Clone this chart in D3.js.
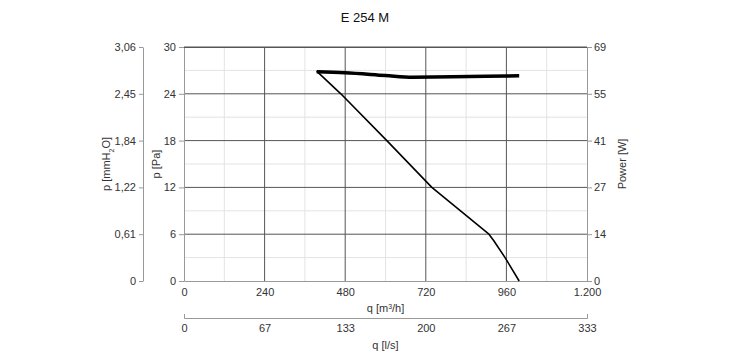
<!DOCTYPE html>
<html><head><meta charset="utf-8">
<script src="https://cdn.jsdelivr.net/npm/d3@7/dist/d3.min.js"></script>
<style>body{margin:0;background:#fff}svg{display:block}text{font-family:Arial,"Liberation Sans",sans-serif}</style>
</head><body>
<svg id="c" width="730" height="360"></svg>
<script>
const title = "E 254 M";
const flowTicks = [0, 240, 480, 720, 960, 1200];
const flowTickLabels = ["0", "240", "480", "720", "960", "1.200"];
const lsTicksLabels = ["0", "67", "133", "200", "267", "333"];
const paTicks = [0, 6, 12, 18, 24, 30];
const mmTickLabels = ["0", "0,61", "1,22", "1,84", "2,45", "3,06"];
const powerTickLabels = ["0", "14", "27", "41", "55", "69"];
// pressure curve: q [m3/h], p [Pa]
const pressQ = [395, 467, 604, 738, 908, 922, 956, 998];
const pressP = [26.9, 24, 18, 12, 6, 5.2, 3, 0];
// power curve: q [m3/h], power [W]
const powQ = [395, 479, 600, 680, 800, 900, 998];
const powW = [61.7, 61.4, 60.6, 60.1, 60.2, 60.4, 60.5];

const svg = d3.select("#c");
const L = 184, R = 587, T = 47, B = 281;
const x = d3.scaleLinear().domain([0, 1200]).range([L, R]);
const y = d3.scaleLinear().domain([0, 30]).range([B, T]);
const yW = d3.scaleLinear().domain([0, 69]).range([B, T]);
const axisCol = "#999", txtCol = "#333";

// grid
const g = svg.append("g");
d3.range(120, 1200, 240).forEach(v => g.append("line").attr("x1", x(v)).attr("x2", x(v)).attr("y1", T).attr("y2", B).attr("stroke", "#e3e3e3"));
d3.range(3, 30, 6).forEach(v => g.append("line").attr("x1", L).attr("x2", R).attr("y1", y(v)).attr("y2", y(v)).attr("stroke", "#e3e3e3"));
flowTicks.slice(1, -1).forEach(v => g.append("line").attr("x1", x(v)).attr("x2", x(v)).attr("y1", T).attr("y2", B).attr("stroke", "#555"));
paTicks.slice(1).forEach(v => g.append("line").attr("x1", L).attr("x2", R).attr("y1", y(v)).attr("y2", y(v)).attr("stroke", "#555"));

function styleAxis(sel) {
  sel.selectAll("path,line").attr("stroke", axisCol);
  sel.selectAll("text").attr("fill", txtCol).style("font-size", "11px").style("font-family", "Arial, 'Liberation Sans', sans-serif");
}

// Pa axis
svg.append("g").attr("transform", `translate(${L},0)`)
  .call(d3.axisLeft(y).tickValues(paTicks).tickSize(5).tickSizeOuter(0).tickPadding(3))
  .call(styleAxis);
// mmH2O axis
svg.append("g").attr("transform", `translate(143,0)`)
  .call(d3.axisLeft(y).tickValues(paTicks).tickFormat((d, i) => mmTickLabels[i]).tickSize(4).tickSizeOuter(0).tickPadding(3))
  .call(styleAxis);
// Power axis
svg.append("g").attr("transform", `translate(${R},0)`)
  .call(d3.axisRight(yW).tickValues(powerTickLabels.map((d, i) => 69 * i / 5)).tickFormat((d, i) => powerTickLabels[i]).tickSize(5).tickSizeOuter(0).tickPadding(2))
  .call(styleAxis);
// flow axis m3/h
svg.append("g").attr("transform", `translate(0,${B})`)
  .call(d3.axisBottom(x).tickValues(flowTicks).tickFormat((d, i) => flowTickLabels[i]).tickSize(0).tickSizeOuter(0).tickPadding(7))
  .call(styleAxis);
// flow axis l/s
svg.append("g").attr("transform", `translate(0,318)`)
  .call(d3.axisBottom(x).tickValues(flowTicks).tickFormat((d, i) => lsTicksLabels[i]).tickSizeInner(0).tickSizeOuter(-4).tickPadding(6))
  .call(styleAxis);

// top border
svg.append("line").attr("x1", L).attr("x2", R).attr("y1", T + 0.5).attr("y2", T + 0.5).attr("stroke", "#555");

// curves
const pressData = pressQ.map((q, i) => [q, pressP[i]]);
const powData = powQ.map((q, i) => [q, powW[i]]);
svg.append("path").datum(pressData)
  .attr("d", d3.line().x(d => x(d[0])).y(d => y(d[1])))
  .attr("fill", "none").attr("stroke", "#000").attr("stroke-width", 1.6).attr("stroke-linejoin", "round");
svg.append("path").datum(powData)
  .attr("d", d3.line().x(d => x(d[0])).y(d => yW(d[1])).curve(d3.curveMonotoneX))
  .attr("fill", "none").attr("stroke", "#000").attr("stroke-width", 3.5);

// texts
svg.append("text").attr("x", 365).attr("y", 22).attr("text-anchor", "middle").attr("fill", "#111").style("font-size", "13px").text(title);
svg.append("text").attr("x", (L + R) / 2).attr("y", 312).attr("text-anchor", "middle").attr("fill", txtCol).style("font-size", "11px")
  .html('q [m<tspan baseline-shift="super" font-size="7px">3</tspan>/h]');
svg.append("text").attr("x", (L + R) / 2).attr("y", 349).attr("text-anchor", "middle").attr("fill", txtCol).style("font-size", "11px").text("q [l/s]");
svg.append("text").attr("transform", `translate(110,${(T + B) / 2}) rotate(-90)`).attr("text-anchor", "middle").attr("fill", txtCol).style("font-size", "11px")
  .html('p [mmH<tspan baseline-shift="sub" font-size="7px">2</tspan>O]');
svg.append("text").attr("transform", `translate(160,${(T + B) / 2}) rotate(-90)`).attr("text-anchor", "middle").attr("fill", txtCol).style("font-size", "11px").text("p [Pa]");
svg.append("text").attr("transform", `translate(626,${(T + B) / 2}) rotate(-90)`).attr("text-anchor", "middle").attr("fill", txtCol).style("font-size", "11px").text("Power [W]");
</script>
</body></html>
